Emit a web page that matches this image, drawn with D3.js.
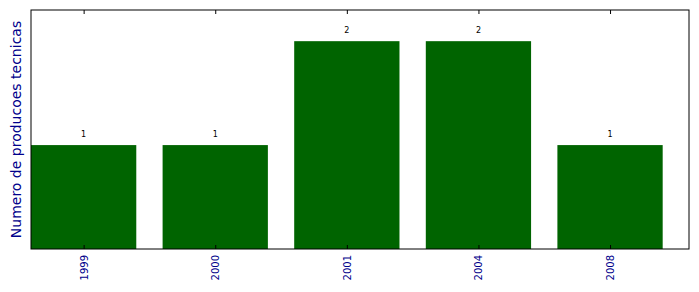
<!DOCTYPE html>
<html>
<meta charset="utf-8">
<head>
  <script src='https://d3js.org/d3.v7.min.js'></script>
  <style>
    body { margin:0; background:#fff; }
  </style>
</head>
<body>
<script>
    var years = ['1999','2000','2001','2004','2008'] ;
    var counts = [1, 1, 2, 2, 1] ;

    const W = 699, H = 292 ;
    const m = {left:31, right:10, top:10, bottom:43} ;

    var svg = d3.select('body').append('svg').attr('width',W).attr('height',H) ;

    // matplotlib-style linear x: bars at integer positions, width .8
    var x = d3.scaleLinear().domain([-0.4, years.length - 0.4]).range([m.left, W - m.right]) ;
    var y = d3.scaleLinear().domain([0, 2.3]).range([H - m.bottom, m.top]) ;

    svg.selectAll('rect.bar')
	.data(counts)
	.join('rect')
	.attr('class','bar')
	.attr('x',(d,i)=>x(i-0.4))
	.attr('width',(d,i)=>x(i+0.4)-x(i-0.4))
	.attr('y',d=>y(d))
	.attr('height',d=>y(0)-y(d))
	.attr('fill','#006400') ;

    // value labels
    svg.selectAll('text.val')
	.data(counts)
	.join('text')
	.attr('class','val')
	.attr('x',(d,i)=>x(i))
	.attr('y',d=>y(d)-8)
	.attr('text-anchor','middle')
	.attr('font-family','DejaVu Sans')
	.attr('font-size',8)
	.attr('fill','#000')
	.text(d=>d) ;

    // frame
    svg.append('rect')
	.attr('x',m.left).attr('y',m.top)
	.attr('width',W-m.left-m.right).attr('height',H-m.top-m.bottom)
	.attr('fill','none').attr('stroke','#000').attr('stroke-width',1) ;

    // inward ticks top and bottom
    var xb = d3.axisBottom(x).tickValues(d3.range(years.length)).tickSizeInner(-4).tickSizeOuter(0).tickFormat(i=>years[i]) ;
    var gb = svg.append('g').attr('transform',`translate(0,${H-m.bottom})`).call(xb) ;
    gb.select('.domain').remove() ;
    gb.selectAll('text')
	.attr('font-family','DejaVu Sans')
	.attr('font-size',10)
	.attr('fill','#00008b')
	.attr('transform','rotate(-90)')
	.attr('text-anchor','end')
	.attr('x',-6).attr('y',0).attr('dy','0.35em') ;

    var xt = d3.axisTop(x).tickValues(d3.range(years.length)).tickSizeInner(-4).tickSizeOuter(0).tickFormat('') ;
    var gt = svg.append('g').attr('transform',`translate(0,${m.top})`).call(xt) ;
    gt.select('.domain').remove() ;

    svg.append('text')
	.attr('transform',`translate(21,${(m.top + H - m.bottom)/2}) rotate(-90)`)
	.attr('text-anchor','middle')
	.attr('font-family','DejaVu Sans')
	.attr('font-size',14)
	.attr('fill','#00008b')
	.text('Numero de producoes tecnicas') ;
</script>
</body>
</html>
